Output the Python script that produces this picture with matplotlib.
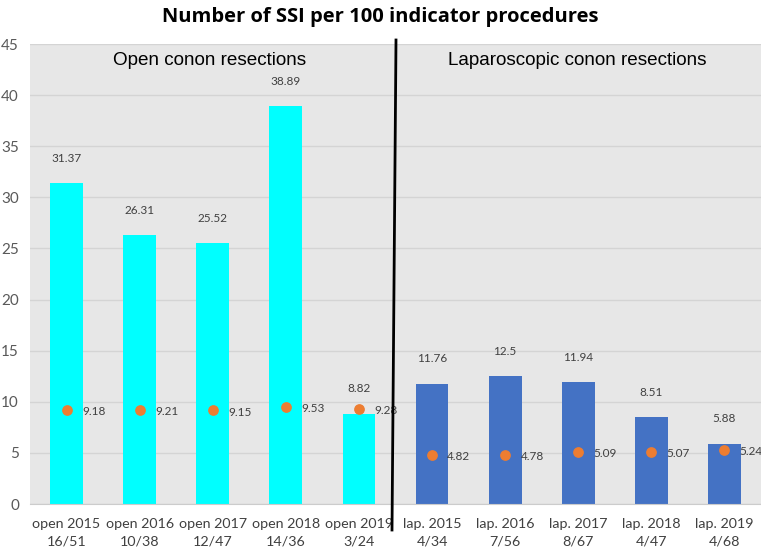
import matplotlib.pyplot as plt
from matplotlib.lines import Line2D
import numpy as np

categories = ['open 2015\n16/51', 'open 2016\n10/38', 'open 2017\n12/47', 'open 2018\n14/36',
              'open 2019\n3/24', 'lap. 2015\n4/34', 'lap. 2016\n7/56', 'lap. 2017\n8/67',
              'lap. 2018\n4/47', 'lap. 2019\n4/68']
ssi_rate = [31.37, 26.31, 25.52, 38.89, 8.82, 11.76, 12.5, 11.94, 8.51, 5.88]
reference = [9.18, 9.21, 9.15, 9.53, 9.28, 4.82, 4.78, 5.09, 5.07, 5.24]
bar_colors = ['#00FFFF'] * 5 + ['#4472C4'] * 5

fig = plt.figure(figsize=(7.61, 5.5), dpi=100)
ax = fig.add_axes([30 / 761, 1 - 504 / 550, 1 - 30 / 761, 460 / 550])
ax.set_facecolor('#e7e7e7')

x = np.arange(len(categories))
ax.bar(x, ssi_rate, width=0.45, color=bar_colors, zorder=2)
ax.scatter(x, reference, s=45, color='#ED7D31', zorder=3)

for xi, v in zip(x, ssi_rate):
    ax.text(xi, v + 1.9, f'{v:g}', ha='center', va='bottom', fontsize=8.5,
            color='#404040', family='Lato')
for xi, v in zip(x, reference):
    ax.text(xi + 0.21, v - 0.15, f'{v:g}', ha='left', va='center', fontsize=8.5,
            color='#404040', family='Lato')

ax.set_xlim(-0.5, len(categories) - 0.5)
ax.set_ylim(0, 45)
ax.set_yticks(range(0, 46, 5))
ax.set_xticks(x)
ax.set_xticklabels(categories, fontsize=10.3, color='#404040', family='Lato', linespacing=1.55)
for lbl in ax.get_yticklabels():
    lbl.set_family('Lato')
    lbl.set_fontsize(11)
    lbl.set_color('#595959')
ax.tick_params(axis='x', length=0, pad=10)
ax.tick_params(axis='y', length=0, pad=8)
ax.yaxis.grid(True, color='#d4d4d4', linewidth=1, zorder=0)
ax.set_axisbelow(True)
for s in ['top', 'right', 'left']:
    ax.spines[s].set_visible(False)
ax.spines['bottom'].set_color('#cccccc')

ax.text(1.95, 43.4, 'Open conon resections', ha='center', va='center', fontsize=13.6,
        family='Liberation Sans')
ax.text(6.98, 43.4, 'Laparoscopic conon resections', ha='center', va='center', fontsize=13.6,
        family='Liberation Sans')

# divider between open and laparoscopic groups
fig.add_artist(Line2D([396 / 761, 392 / 761], [1 - 40 / 550, 1 - 530 / 550],
                      color='black', linewidth=2))

fig.suptitle('Number of SSI per 100 indicator procedures', y=0.988, fontsize=14.5,
             fontweight='bold', family='Open Sans')

fig.savefig('out.png', dpi=100)
